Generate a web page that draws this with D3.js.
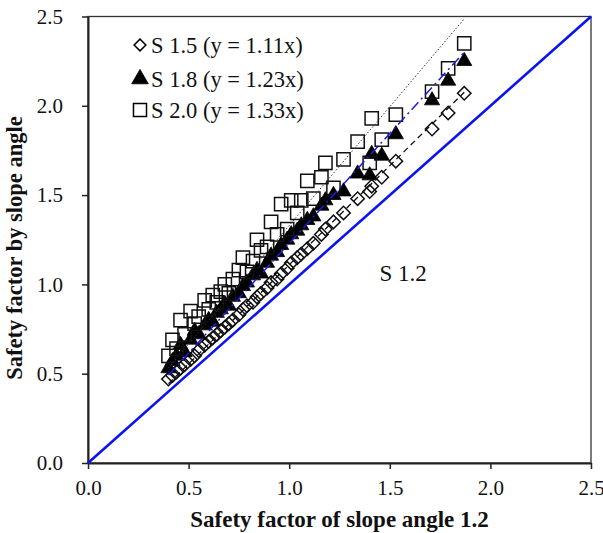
<!DOCTYPE html>
<html>
<head>
<meta charset="utf-8">
<script src="https://cdn.jsdelivr.net/npm/d3@7"></script>
<style>
  html, body { margin: 0; padding: 0; background: #fff; }
  svg { display: block; }
  text { font-family: "Liberation Serif", "Times New Roman", serif; fill: #111; }
</style>
</head>
<body>
<svg id="chart" width="603" height="533"></svg>
<script>
// Safety factor of the 1.2 slope (shared x for every series)
const sf12 = [0.40, 0.42, 0.44, 0.46, 0.48, 0.51, 0.53, 0.55, 0.58, 0.60,
              0.62, 0.64, 0.66, 0.68, 0.70, 0.72, 0.75, 0.77, 0.79, 0.82,
              0.84, 0.86, 0.89, 0.91, 0.94, 0.96, 0.99, 1.01, 1.04, 1.06,
              1.09, 1.12, 1.16, 1.18, 1.22, 1.27, 1.34, 1.40, 1.41, 1.46,
              1.53, 1.71, 1.79, 1.87];
// Safety factor for slope 1.5
const sf15 = [0.47, 0.49, 0.51, 0.53, 0.55, 0.58, 0.60, 0.63, 0.66, 0.68,
              0.70, 0.72, 0.74, 0.76, 0.78, 0.80, 0.83, 0.86, 0.88, 0.90,
              0.93, 0.95, 0.98, 1.01, 1.03, 1.06, 1.09, 1.12, 1.15, 1.17,
              1.20, 1.23, 1.28, 1.31, 1.35, 1.40, 1.48, 1.52, 1.55, 1.60,
              1.69, 1.87, 1.96, 2.07];
// Safety factor for slope 1.8
const sf18 = [0.53, 0.57, 0.60, 0.66, 0.62, 0.69, 0.74, 0.72, 0.77, 0.80,
              0.79, 0.84, 0.86, 0.89, 0.88, 0.93, 0.95, 0.99, 1.01, 1.05,
              1.08, 1.06, 1.12, 1.16, 1.18, 1.22, 1.25, 1.28, 1.30, 1.33,
              1.36, 1.38, 1.44, 1.47, 1.50, 1.52, 1.62, 1.61, 1.73, 1.72,
              1.84, 2.03, 2.14, 2.25];
// Safety factor for slope 2.0
const sf20 = [0.60, 0.69, 0.64, 0.80, 0.72, 0.85, 0.78, 0.82, 0.91, 0.86,
              0.94, 0.90, 0.96, 1.00, 0.95, 1.03, 1.08, 1.15, 1.07, 1.13,
              1.25, 1.19, 1.21, 1.35, 1.28, 1.45, 1.31, 1.47, 1.40, 1.47,
              1.58, 1.48, 1.60, 1.68, 1.54, 1.70, 1.80, 1.68, 1.93, 1.81,
              1.95, 2.08, 2.21, 2.35];

const seriesNames = ["S 1.5 (y = 1.11x)", "S 1.8 (y = 1.23x)", "S 2.0 (y = 1.33x)"];
const slopes = [1.11, 1.23, 1.33];
const axisTicks = [0.0, 0.5, 1.0, 1.5, 2.0, 2.5];
const xTitle = "Safety factor of slope angle 1.2";
const yTitle = "Safety factor by slope angle";
const refLabel = "S 1.2";

const svg = d3.select("#chart");
const m = { left: 88, right: 591, top: 16.5, bottom: 463 };
const x = d3.scaleLinear().domain([0, 2.5]).range([m.left, m.right]);
const y = d3.scaleLinear().domain([0, 2.5]).range([m.bottom, m.top]);

// plot frame
svg.append("rect")
  .attr("x", m.left).attr("y", m.top)
  .attr("width", m.right - m.left).attr("height", m.bottom - m.top)
  .attr("fill", "none").attr("stroke", "#333").attr("stroke-width", 1.3);

// axes
const fmt = d3.format(".1f");
const xAxis = svg.append("g").attr("transform", `translate(0,${m.bottom})`)
  .call(d3.axisBottom(x).tickValues(axisTicks).tickFormat(fmt).tickSize(6).tickSizeOuter(0));
const yAxis = svg.append("g").attr("transform", `translate(${m.left},0)`)
  .call(d3.axisLeft(y).tickValues(axisTicks).tickFormat(fmt).tickSize(6).tickSizeOuter(0));
[xAxis, yAxis].forEach(g => {
  g.select(".domain").attr("stroke", "#222").attr("stroke-width", 2);
  g.selectAll(".tick line").attr("stroke", "#222").attr("stroke-width", 1.5);
  g.selectAll(".tick text")
    .style("font-family", "'Liberation Serif', 'Times New Roman', serif")
    .style("font-size", "21px").attr("fill", "#111");
});
xAxis.selectAll(".tick text").attr("y", 17).attr("dy", "0.71em");
yAxis.selectAll(".tick text").attr("x", -25);

// axis titles
svg.append("text")
  .attr("x", (m.left + m.right) / 2).attr("y", 527)
  .attr("text-anchor", "middle")
  .style("font-size", "23px").style("font-weight", "bold")
  .text(xTitle);
svg.append("text")
  .attr("transform", `translate(22,248) rotate(-90)`)
  .attr("text-anchor", "middle")
  .style("font-size", "22.5px").style("font-weight", "bold")
  .text(yTitle);

// 1:1 reference line (S 1.2)
svg.append("line")
  .attr("x1", x(0)).attr("y1", y(0)).attr("x2", x(2.5)).attr("y2", y(2.5))
  .attr("stroke", "#0a14f0").attr("stroke-width", 2.6);
svg.append("text")
  .attr("x", x(1.566)).attr("y", y(1.02))
  .attr("text-anchor", "middle")
  .style("font-size", "23px")
  .text(refLabel);

// markers
const diamond = d3.symbol().type(d3.symbolSquare).size(90);
const tri = d3.symbol().type(d3.symbolTriangle).size(100);
const square = d3.symbol().type(d3.symbolSquare).size(175);

const gPts = svg.append("g");
const ptsS15 = sf12.map((v, i) => [v, sf15[i]]);
const ptsS18 = sf12.map((v, i) => [v, sf18[i]]);
const ptsS20 = sf12.map((v, i) => [v, sf20[i]]);

gPts.selectAll("path.s15").data(ptsS15).join("path")
  .attr("class", "s15")
  .attr("d", diamond)
  .attr("transform", d => `translate(${x(d[0])},${y(d[1])}) rotate(45)`)
  .attr("fill", "none").attr("stroke", "#111").attr("stroke-width", 1.5);
gPts.selectAll("path.s18").data(ptsS18).join("path")
  .attr("class", "s18")
  .attr("d", tri)
  .attr("transform", d => `translate(${x(d[0])},${y(d[1])})`)
  .attr("fill", "#000").attr("stroke", "#000").attr("stroke-width", 0.8);
gPts.selectAll("path.s20").data(ptsS20).join("path")
  .attr("class", "s20")
  .attr("d", square)
  .attr("transform", d => `translate(${x(d[0])},${y(d[1])})`)
  .attr("fill", "none").attr("stroke", "#111").attr("stroke-width", 1.5);

// linear trend lines through the origin
const xMin = d3.min(sf12), xMax = d3.max(sf12);
const trendStyles = [
  { stroke: "#111", width: 1.3, dash: "6,4" },
  { stroke: "#1a1ae6", width: 1.5, dash: "10,4,2,4" },
  { stroke: "#333", width: 1, dash: "1.5,2" }
];
slopes.forEach((k, i) => {
  const s = trendStyles[i];
  svg.append("line")
    .attr("x1", x(xMin)).attr("y1", y(k * xMin))
    .attr("x2", x(xMax)).attr("y2", y(k * xMax))
    .attr("stroke", s.stroke).attr("stroke-width", s.width)
    .attr("stroke-dasharray", s.dash);
});

// legend
const legend = svg.append("g");
const legendY = [45, 79, 110];
const legendSymbols = [
  { sym: d3.symbol().type(d3.symbolSquare).size(70), rot: 45, fill: "none", sw: 1.5 },
  { sym: d3.symbol().type(d3.symbolTriangle).size(120), rot: 0, fill: "#000", sw: 0.8 },
  { sym: d3.symbol().type(d3.symbolSquare).size(170), rot: 0, fill: "none", sw: 1.5 }
];
seriesNames.forEach((name, i) => {
  const ls = legendSymbols[i];
  legend.append("path")
    .attr("d", ls.sym)
    .attr("transform", `translate(140,${legendY[i]}) rotate(${ls.rot})`)
    .attr("fill", ls.fill).attr("stroke", "#000").attr("stroke-width", ls.sw);
  legend.append("text")
    .attr("x", 151).attr("y", legendY[i]).attr("dy", "0.35em")
    .style("font-size", "22.5px")
    .text(name);
});
</script>
</body>
</html>
